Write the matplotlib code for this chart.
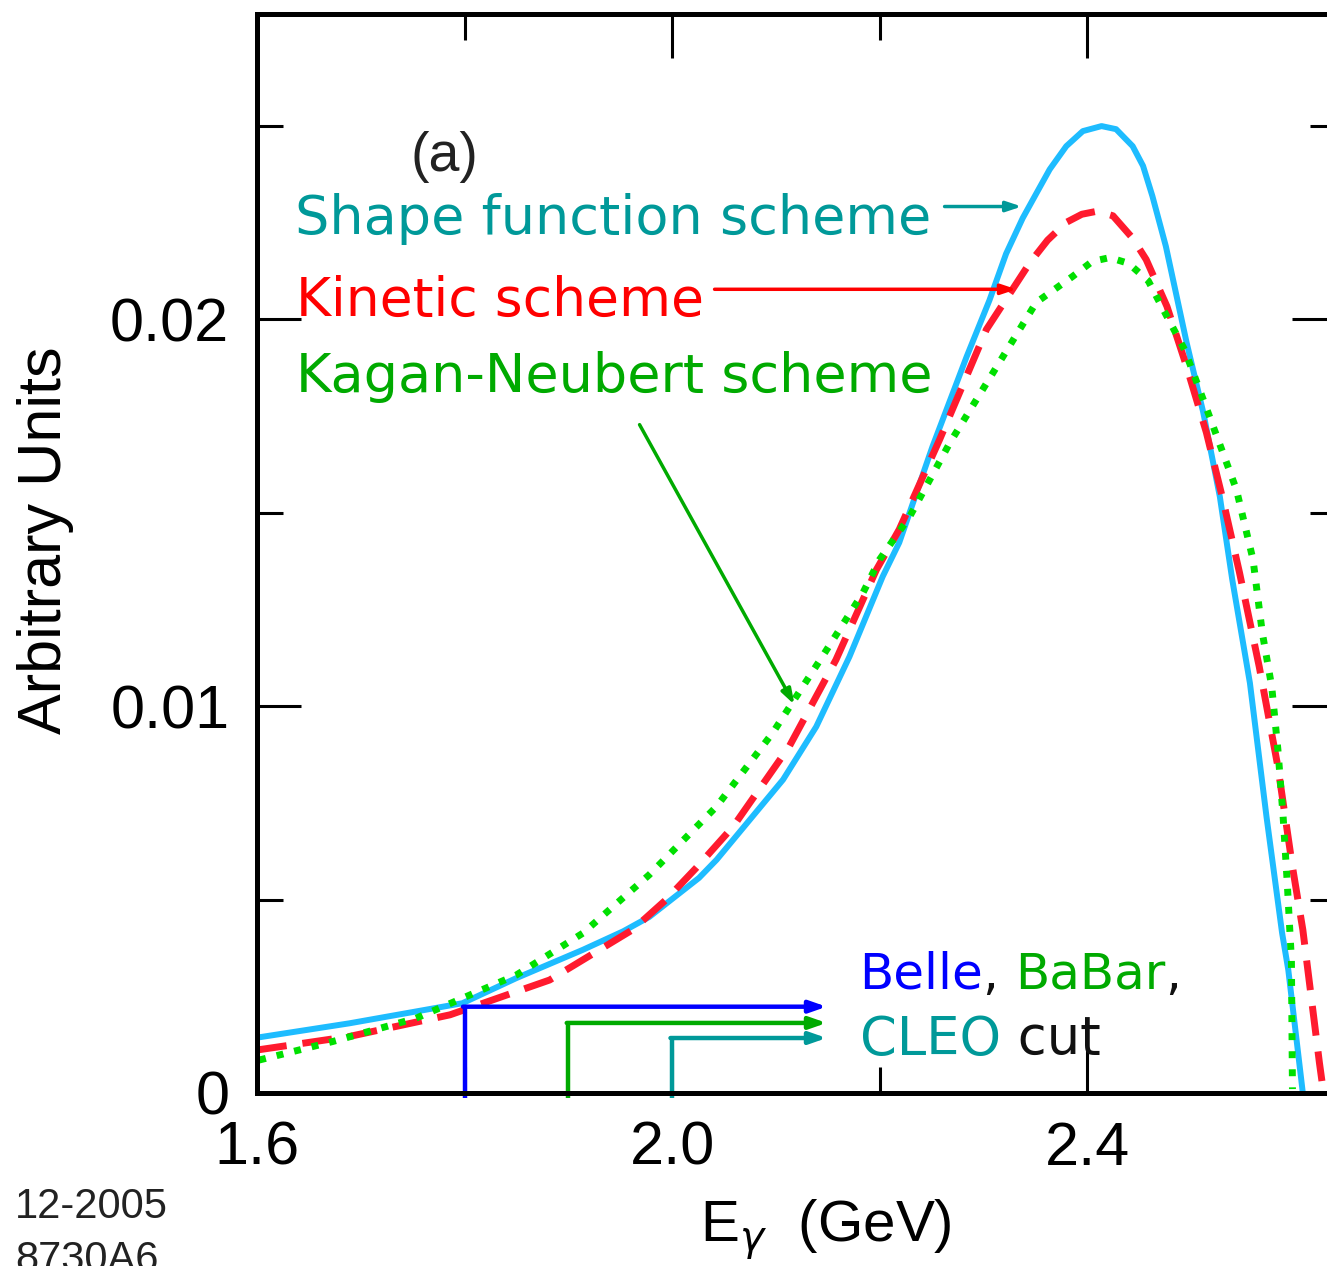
import numpy as np
import matplotlib
matplotlib.use("Agg")
import matplotlib.pyplot as plt

# curves (E_gamma in GeV, arbitrary units)
sf_x = [1.600, 1.689, 1.798, 1.850, 1.914, 1.953, 1.978, 2.026, 2.043, 2.107, 2.139, 2.171,
        2.203, 2.219, 2.251, 2.284, 2.306, 2.322, 2.338, 2.352, 2.364, 2.380, 2.396, 2.414,
        2.428, 2.444, 2.454, 2.463, 2.476, 2.496, 2.512, 2.528, 2.540, 2.557, 2.573, 2.588,
        2.594, 2.608]
sf_y = [0.00143, 0.00180, 0.00232, 0.00297, 0.00370, 0.00418, 0.00455, 0.00556, 0.00603,
        0.00810, 0.00947, 0.01128, 0.01335, 0.01423, 0.01671, 0.01904, 0.02050, 0.02170,
        0.02262, 0.02330, 0.02388, 0.02448, 0.02487, 0.02500, 0.02492, 0.02448, 0.02397,
        0.02319, 0.02189, 0.01940, 0.01760, 0.01542, 0.01327, 0.01060, 0.00714, 0.00414,
        0.00318, 0.00000]

kin_x = [1.600, 1.689, 1.786, 1.882, 1.962, 1.994, 2.023, 2.059, 2.113, 2.158, 2.197, 2.219,
         2.258, 2.303, 2.345, 2.362, 2.380, 2.395, 2.410, 2.425, 2.444, 2.457, 2.477, 2.496,
         2.515, 2.531, 2.547, 2.566, 2.584, 2.598, 2.608, 2.612, 2.624, 2.628]
kin_y = [0.00111, 0.00146, 0.00202, 0.00292, 0.00422, 0.00499, 0.00581, 0.00689, 0.00896,
         0.01120, 0.01353, 0.01457, 0.01690, 0.01974, 0.02147, 0.02205, 0.02251, 0.02272,
         0.02280, 0.02268, 0.02210, 0.02155, 0.02034, 0.01878, 0.01708, 0.01534, 0.01345,
         0.01102, 0.00843, 0.00585, 0.00422, 0.00336, 0.00078, 0.00000]

kn_x = [1.602, 1.673, 1.753, 1.850, 1.914, 1.978, 2.043, 2.097, 2.145, 2.184, 2.200, 2.229,
        2.268, 2.313, 2.351, 2.386, 2.405, 2.422, 2.440, 2.459, 2.476, 2.494, 2.512, 2.531,
        2.544, 2.560, 2.569, 2.578, 2.584, 2.589, 2.593, 2.597, 2.598]
kn_y = [0.00085, 0.00133, 0.00193, 0.00305, 0.00413, 0.00564, 0.00741, 0.00931, 0.01129,
        0.01293, 0.01379, 0.01490, 0.01682, 0.01878, 0.02044, 0.02111, 0.02150, 0.02160,
        0.02145, 0.02100, 0.02013, 0.01922, 0.01793, 0.01655, 0.01560, 0.01379, 0.01189,
        0.01051, 0.00887, 0.00715, 0.00543, 0.00344, 0.00010]

# photon energy cuts
cut_names = ["Belle", "BaBar", "CLEO"]
cut_x = [1.8, 1.9, 2.0]
cut_y = [0.00223, 0.00181, 0.00142]
cut_end = 2.149
cut_colors = ["#0000ff", "#00aa00", "#009999"]

plt.rcParams['font.family'] = ['Liberation Sans', 'DejaVu Sans']
fig = plt.figure(figsize=(13.27, 12.66), dpi=100)
ax = fig.add_axes([0.1937, 0.1367, 0.8131, 0.8523])

ax.plot(sf_x, sf_y, color='#1ebcff', lw=4.3, solid_capstyle='butt', solid_joinstyle='round')
ax.plot(kin_x, kin_y, color='#ff1a2e', lw=5, linestyle=(0, (4.3, 2.3)), dash_capstyle='butt')
ax.plot(kn_x, kn_y, color='#00e000', lw=5, linestyle=(0, (1, 1.6)), dash_capstyle='butt')

for cx, cy, c in zip(cut_x, cut_y, cut_colors):
    ax.plot([cx, cx], [-0.00013, cy], color=c, lw=3.2, clip_on=False, solid_capstyle='butt')
    ax.annotate("", xy=(cut_end, cy), xytext=(cx - 0.0015, cy),
                arrowprops=dict(arrowstyle='-|>,head_length=1.0,head_width=0.35',
                                color=c, lw=3.2, shrinkA=0, shrinkB=0))

ax.set_xlim(1.6, 2.64)
ax.set_ylim(0, 0.0279)
ax.set_xticks([1.6, 2.0, 2.4])
ax.set_xticklabels(["1.6", "2.0", "2.4"])
ax.set_xticks([1.8, 2.2], minor=True)
ax.set_yticks([0, 0.01, 0.02])
ax.set_yticklabels(["0", "0.01", "0.02"])
ax.set_yticks([0.005, 0.015, 0.025], minor=True)
ax.tick_params(which='both', direction='in', top=True, right=True, width=2.2, colors='black')
ax.tick_params(which='major', length=32, labelsize=44, pad=20)
ax.tick_params(which='minor', length=19)
for s in ax.spines.values():
    s.set_linewidth(3.6)

ax.set_ylabel("Arbitrary Units", fontsize=44, va='center')
ax.yaxis.set_label_coords(-0.1965, 0.5125)
ax.set_xlabel(r"E$_\gamma$  (GeV)", fontsize=42)
ax.xaxis.set_label_coords(0.527, -0.097)

ax.text(1.781, 0.02420, "(a)", fontsize=40, ha='center', va='center', color='#222222')

lab_font = 'DejaVu Sans'
ax.text(1.6362, 0.02259, "Shape function scheme", fontsize=39, family=lab_font,
        color='#009999', va='center')
ax.text(1.638, 0.02047, "Kinetic scheme", fontsize=38.5, family=lab_font,
        color='#ff0000', va='center')
ax.text(1.638, 0.01852, "Kagan-Neubert scheme", fontsize=39, family=lab_font,
        color='#00aa00', va='center')

ax.annotate("", xy=(2.337, 0.02292), xytext=(2.2627, 0.02292),
            arrowprops=dict(arrowstyle='-|>,head_length=0.9,head_width=0.3',
                            color='#009999', lw=2.5, shrinkA=0, shrinkB=0))
ax.annotate("", xy=(2.332, 0.02078), xytext=(2.041, 0.02078),
            arrowprops=dict(arrowstyle='-|>,head_length=0.9,head_width=0.3',
                            color='#ff0000', lw=2.5, shrinkA=0, shrinkB=0))
ax.annotate("", xy=(2.118, 0.01004), xytext=(1.9687, 0.01728),
            arrowprops=dict(arrowstyle='-|>,head_length=0.9,head_width=0.3',
                            color='#00aa00', lw=2.5, shrinkA=0, shrinkB=0))

# multi-coloured cut label, pieces placed one after another
fig.canvas.draw()
renderer = fig.canvas.get_renderer()
inv = ax.transData.inverted()
lines = [[("Belle", cut_colors[0]), (", ", '#111111'), ("BaBar", cut_colors[1]), (",", '#111111')],
         [("CLEO", cut_colors[2]), (" cut", '#111111')]]
for row, yy, fs in zip(lines, [0.00305, 0.00137], [36, 38]):
    xx = 2.1807
    for word, c in row:
        t = ax.text(xx, yy, word, fontsize=fs, family=lab_font, color=c, va='center')
        bb = t.get_window_extent(renderer)
        xx = inv.transform((bb.x1, bb.y0))[0]

fig.text(15 / 1327, 1 - 1207 / 1266, "12-2005", fontsize=30, va='center', color='#222222')
fig.text(15 / 1327, 1 - 1240 / 1266, "8730A6", fontsize=30, va='top', color='#222222')

plt.savefig('out.png', dpi=100)
